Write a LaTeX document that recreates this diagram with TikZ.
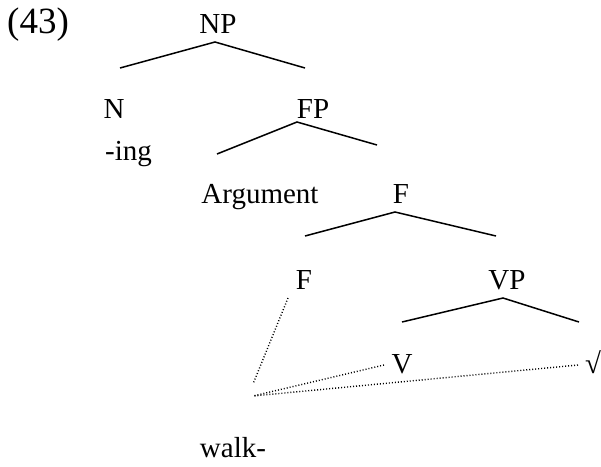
\documentclass[tikz,border=0pt]{standalone}
\usepackage{fontspec}
\setmainfont{Liberation Serif}
\begin{document}
\begin{tikzpicture}[x=1pt,y=-1pt,
  lbl/.style={inner sep=0pt,anchor=base,font=\fontsize{29}{34}\selectfont},
  branch/.style={line width=1.5pt},
  dotline/.style={line width=1.4pt,dash pattern=on 1pt off 2pt}]
\useasboundingbox (0,0) rectangle (601,466);
% labels
\node[lbl,anchor=base west,font=\fontsize{37}{42}\selectfont] (ex) at (7,33) {(43)};
\node[lbl] (NP) at (218,33) {NP};
\node[lbl] (N) at (114,118) {N};
\node[lbl,anchor=base west] (ing) at (105,160) {-ing};
\node[lbl] (FP) at (313,118) {FP};
\node[lbl] (Arg) at (260,203) {Argument};
\node[lbl] (Fbar) at (401,203) {F};
\node[lbl] (F) at (304,289) {F};
\node[lbl] (VP) at (507,289) {VP};
\node[lbl] (V) at (402,373) {V};
\node[lbl,anchor=base west] (root) at (585,373) {√};
\node[lbl,text depth=0pt] (walk) at (233,457) {walk-};
% branch points
\coordinate (npA) at (215,42);  \coordinate (npL) at (120,68);  \coordinate (npR) at (305,68);
\coordinate (fpA) at (297,122); \coordinate (fpL) at (217,154); \coordinate (fpR) at (377,145);
\coordinate (fA) at (395,212);  \coordinate (fL) at (305,236);  \coordinate (fR) at (496,236);
\coordinate (vpA) at (503,298); \coordinate (vpL) at (402,322); \coordinate (vpR) at (579,322);
\coordinate (fTop) at (288,298); \coordinate (fBot) at (253,384);
\coordinate (vEnd) at (384,365); \coordinate (rEnd) at (578,365);
\coordinate (meet) at (253,396);
% solid branches
\draw[branch] (npL) -- (npA) -- (npR);
\draw[branch] (fpL) -- (fpA) -- (fpR);
\draw[branch] (fL) -- (fA) -- (fR);
\draw[branch] (vpL) -- (vpA) -- (vpR);
% dotted links
\draw[dotline] (fTop) -- (fBot);
\draw[dotline] (vEnd) -- (meet);
\draw[dotline] (rEnd) -- (meet);
\end{tikzpicture}
\end{document}
